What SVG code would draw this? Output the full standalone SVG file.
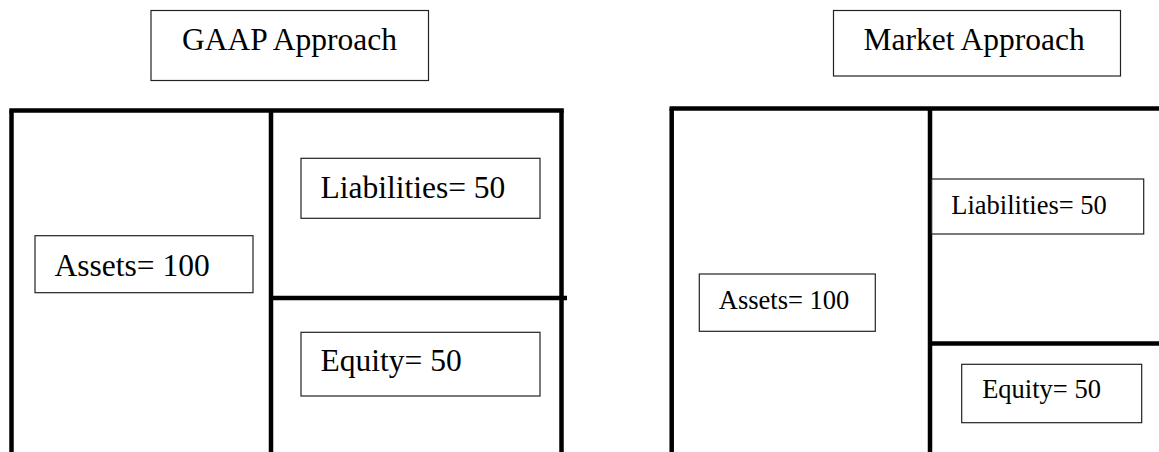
<svg xmlns="http://www.w3.org/2000/svg" width="1159" height="452" viewBox="0 0 1159 452">
<style>
.bg{fill:#ffffff}
.frame{stroke:#000;stroke-width:4.5;fill:none;stroke-linecap:butt}
.box{fill:#ffffff;stroke:#222;stroke-width:1.2}
.big{font-family:"Liberation Serif","Times New Roman",serif;font-size:31.5px;fill:#000}
.small{font-family:"Liberation Serif","Times New Roman",serif;font-size:26.5px;fill:#000}
</style>
<rect class="bg" x="0" y="0" width="1159" height="452"/>
<g id="connectors">
  <line class="frame" x1="9.3" y1="110.5" x2="563.8" y2="110.5"/>
  <line class="frame" x1="11.5" y1="110.5" x2="11.5" y2="452"/>
  <line class="frame" x1="271" y1="110.5" x2="271" y2="452"/>
  <line class="frame" x1="561.5" y1="110.5" x2="561.5" y2="452"/>
  <line class="frame" x1="271" y1="298" x2="567" y2="298"/>
  <line class="frame" x1="669.5" y1="108.5" x2="1159" y2="108.5"/>
  <line class="frame" x1="671.7" y1="108.5" x2="671.7" y2="452"/>
  <line class="frame" x1="930" y1="108.5" x2="930" y2="452"/>
  <line class="frame" x1="930" y1="343.5" x2="1159" y2="343.5"/>
</g>
<g id="gaap-title">
  <rect class="box" x="151" y="10.5" width="277.5" height="70"/>
  <text class="big" x="182" y="50">GAAP Approach</text>
</g>
<g id="market-title">
  <rect class="box" x="833.5" y="10.5" width="287" height="65.5"/>
  <text class="big" x="863.5" y="50">Market Approach</text>
</g>
<g id="gaap-liabilities">
  <rect class="box" x="301" y="158.3" width="239" height="60"/>
  <text class="big" x="320.5" y="197.5">Liabilities= 50</text>
</g>
<g id="gaap-assets">
  <rect class="box" x="35" y="235.7" width="218" height="57"/>
  <text class="big" x="54.5" y="275.5">Assets= 100</text>
</g>
<g id="gaap-equity">
  <rect class="box" x="301" y="332.3" width="239" height="63.7"/>
  <text class="big" x="320.5" y="371">Equity= 50</text>
</g>
<g id="market-liabilities">
  <rect class="box" x="931.7" y="179" width="212" height="55"/>
  <text class="small" x="951.3" y="214">Liabilities= 50</text>
</g>
<g id="market-assets">
  <rect class="box" x="699.3" y="274" width="176" height="57.3"/>
  <text class="small" x="718.8" y="308.7">Assets= 100</text>
</g>
<g id="market-equity">
  <rect class="box" x="961.7" y="364.3" width="180" height="58.4"/>
  <text class="small" x="982.2" y="398.3">Equity= 50</text>
</g>
</svg>
